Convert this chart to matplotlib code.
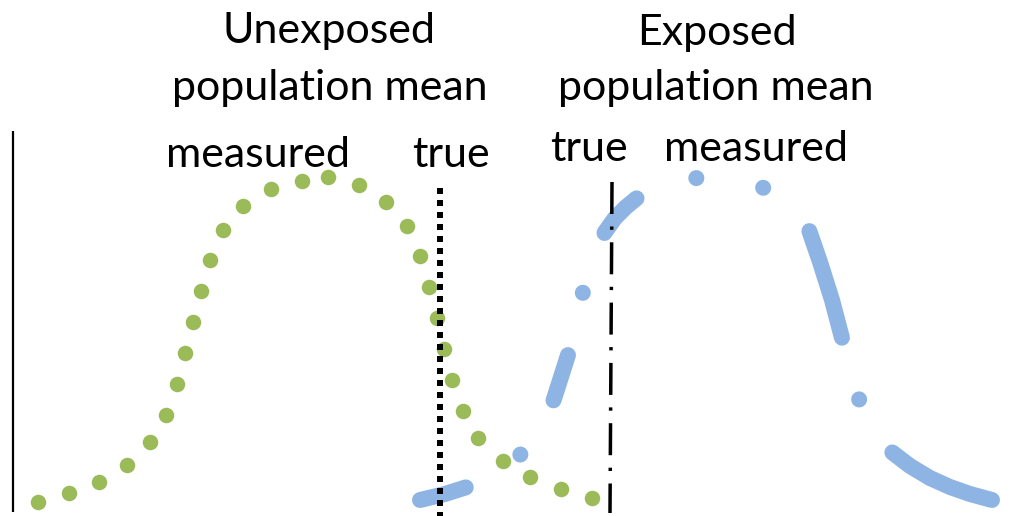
import numpy as np
import matplotlib.pyplot as plt

plt.rcParams['lines.scale_dashes'] = False
plt.rcParams['font.family'] = ['Lato', 'DejaVu Sans']

# coordinates (x to the right, y downward)
green_x = [38, 69, 99, 127, 150, 166, 177, 185, 193, 201, 210, 223, 243, 271, 302,
           328, 359, 386, 407, 420, 429, 437, 444, 452, 463, 478, 503, 530, 561, 592]
green_y = [502, 493, 482, 465, 442, 415, 384, 353, 322, 291, 260, 230, 206, 189, 181,
           177, 185, 202, 226, 256, 287, 318, 349, 380, 411, 438, 461, 477, 489, 498]

# exposed curve, left half (up to the peak) and right half (from the far end back to the peak)
blue_left_x = [420, 445, 467, 490, 508, 521, 535, 546, 554, 561, 568, 576, 583, 590,
               598, 605, 615, 626, 637, 655, 675, 697, 720]
blue_left_y = [500, 494, 487, 476, 465, 454, 437, 419, 399, 377, 355, 323, 292, 262,
               245, 232, 218, 207, 198, 187, 181, 178, 177]
blue_right_x = [992, 970, 950, 930, 910, 893, 880, 868, 859, 850, 842, 832, 820, 809,
                796, 780, 762, 742, 720]
blue_right_y = [500, 494, 487, 478, 466, 453, 442, 425, 399, 369, 338, 300, 262, 230,
                213, 199, 187, 180, 177]

unexp_true_x = 440
exp_true_x = [612, 610]

labels = ['Unexposed', 'population mean', 'measured', 'true',
          'Exposed', 'population mean', 'true', 'measured']
label_x = [329, 330, 258, 451, 717, 716, 589, 756]
label_y = [43, 100, 167, 167, 45, 100, 161, 161]

green = '#9BBB59'
blue = '#8EB4E3'
px = 0.72  # points per pixel at dpi 100

fig = plt.figure(figsize=(10.17, 5.16), dpi=100)
ax = fig.add_axes([0, 0, 1, 1])
ax.set_xlim(0, 1017)
ax.set_ylim(516, 0)
ax.axis('off')

# y axis line
ax.plot([13, 13], [131, 512], color='black', lw=1.6, solid_capstyle='butt')

ax.scatter(green_x, green_y, s=(15.5 * px) ** 2, color=green, linewidths=0, zorder=2)

ax.plot(blue_left_x, blue_left_y, color=blue, lw=16 * px, dash_capstyle='round',
        dashes=[47.5 * px, 64 * px, 0.1, 64 * px], zorder=2)
ax.plot(blue_right_x, blue_right_y, color=blue, lw=16 * px, dash_capstyle='round',
        dashes=[111.5 * px, 64 * px, 0.1, 64 * px], zorder=2)

ax.plot([unexp_true_x, unexp_true_x], [188, 520], color='black', lw=6 * px,
        dashes=[6 * px, 6 * px], dash_capstyle='butt', zorder=3)
ax.plot(exp_true_x, [182, 513], color='black', lw=3.5 * px,
        dashes=[32 * px, 12.5 * px, 3.3 * px, 12.5 * px], dash_capstyle='butt', zorder=3)

for t, x, y in zip(labels, label_x, label_y):
    ax.text(x, y, t, ha='center', va='baseline', fontsize=31, color='black')

fig.savefig('out.png', dpi=100)
